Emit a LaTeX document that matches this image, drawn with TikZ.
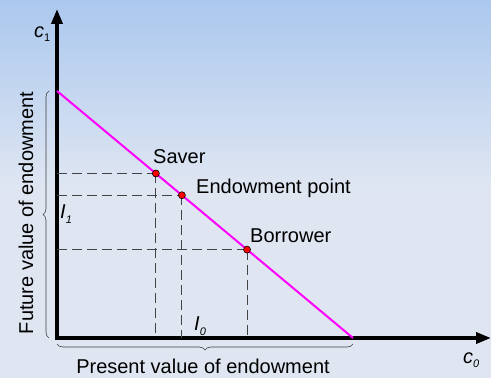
\documentclass[tikz,border=0pt]{standalone}
\usepackage{fontspec}
\setmainfont{Liberation Sans}
\usetikzlibrary{arrows.meta,decorations.pathreplacing,calc}
\definecolor{bgtop}{HTML}{ABC8EE}
\definecolor{bgbot}{HTML}{DFE6F2}
\definecolor{dashgray}{HTML}{444444}
\definecolor{mag}{RGB}{255,0,255}
\tikzset{
  axis/.style={line width=3.5pt,-{Triangle[length=15pt,width=11pt]}},
  budget/.style={line width=2pt,color=mag},
  guide/.style={line width=0.9pt,color=dashgray,dash pattern=on 10pt off 5pt},
  dot/.style={circle,fill=red,draw=black,line width=0.6pt,inner sep=0pt,minimum size=7pt},
  lbl/.style={font=\fontsize{20}{23}\selectfont,inner sep=0pt},
  brc/.style={decorate,decoration={brace,amplitude=6pt},line width=0.6pt,color=black!75},
}
\begin{document}
\begin{tikzpicture}[x=1pt,y=1pt]
\useasboundingbox (0,0) rectangle (491,378);
\shade[top color=bgtop,bottom color=bgbot] (0,190) rectangle (491,378);
\fill[bgbot] (0,0) rectangle (491,190.5);
% axes
\coordinate (O) at (57,40);
\coordinate (Ytop) at (57,369);
\coordinate (Xend) at (491,40);
\coordinate (A) at (57,287);
\coordinate (B) at (353,40);
\draw[axis] ([yshift=-1.75pt]O) -- (Ytop);
\draw[axis] ([xshift=-1.75pt]O) -- (Xend);
% budget line
\draw[budget] (A) -- (B);
\coordinate (S) at ($(A)!0.334!(B)$);
\coordinate (E) at ($(A)!0.422!(B)$);
\coordinate (W) at ($(A)!0.642!(B)$);
% guides
\foreach \p in {S,E,W}{
  \draw[guide] (O |- \p) -- (\p);
  \draw[guide] (\p) -- (\p |- O);
}
\node[dot] (s) at (S) {};
\node[dot] (e) at (E) {};
\node[dot] (w) at (W) {};
% labels
\node[lbl,anchor=base west] (ls) at (153,214) {Saver};
\node[lbl,anchor=base west] (le) at (196,184) {Endowment point};
\node[lbl,anchor=base west] (lw) at (250,135) {Borrower};
\node[lbl,anchor=base west] (c1) at (34,340) {\textit{c}\raisebox{-4pt}{\fontsize{11}{12}\selectfont 1}};
\node[lbl,anchor=base west] (c0) at (463,14) {\textit{c}\raisebox{-4pt}{\fontsize{11}{12}\selectfont\itshape 0}};
\node[lbl,anchor=base west] (i1) at (60,159) {\textit{I}\raisebox{-5pt}{\fontsize{11}{12}\selectfont\itshape 1}};
\node[lbl,anchor=base west] (i0) at (194,47) {\textit{I}\raisebox{-5pt}{\fontsize{11}{12}\selectfont\itshape 0}};
% braces
\draw[brc] (49,40) -- (49,287);
\draw[brc] (353,34) -- (57,34);
\node[lbl,rotate=90] (fv) at (26,165) {Future value of endowment};
\node[lbl] (pv) at (203,12) {Present value of endowment};
\end{tikzpicture}
\end{document}
